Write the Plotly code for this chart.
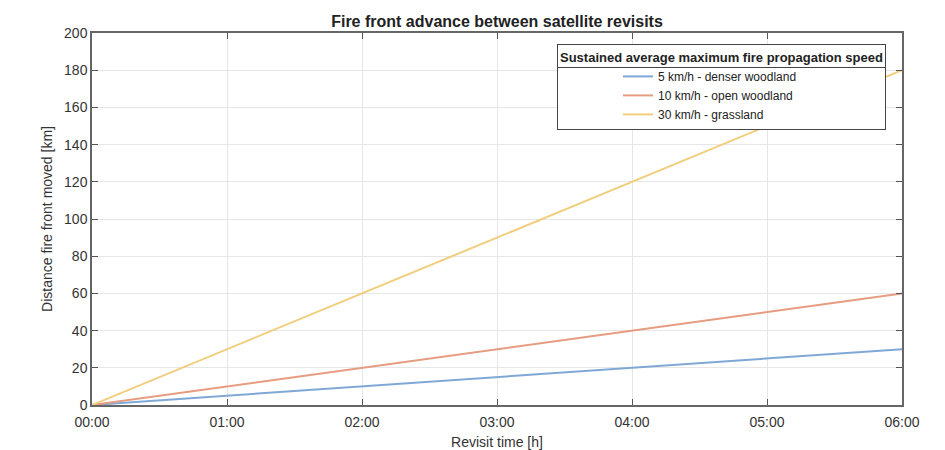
import plotly.graph_objects as go

hours = [0, 1, 2, 3, 4, 5, 6]
tick_labels = ["00:00", "01:00", "02:00", "03:00", "04:00", "05:00", "06:00"]
dist_5 = [0, 5, 10, 15, 20, 25, 30]
dist_10 = [0, 10, 20, 30, 40, 50, 60]
dist_30 = [0, 30, 60, 90, 120, 150, 180]
series_names = ["5 km/h - denser woodland", "10 km/h - open woodland", "30 km/h - grassland"]
series_colors = ["rgb(128,168,214)", "rgb(230,156,128)", "rgb(240,206,125)"]
y_ticks = [0, 20, 40, 60, 80, 100, 120, 140, 160, 180, 200]

FONT = "Liberation Sans, Arial, sans-serif"

# page body has an 8px margin; figure is sized so the plot lands where the reference has it
OFF = 8
W, H = 929, 442
L, T, R, B = 84, 25, 35, 45

fig = go.Figure()
for ys, name, col in zip([dist_5, dist_10, dist_30], series_names, series_colors):
    fig.add_trace(go.Scatter(x=hours, y=ys, mode="lines", name=name,
                             line=dict(color=col, width=2)))

axis_common = dict(
    showline=True, linecolor="#666666", linewidth=1.5, mirror="ticks",
    ticks="inside", ticklen=6, tickcolor="#555555", tickwidth=1,
    showgrid=True, gridcolor="#e6e6e6", gridwidth=1, zeroline=False,
    automargin=False,
    tickfont=dict(family=FONT, size=14, color="#333333"),
)

fig.update_xaxes(range=[0, 6], tickvals=hours, ticktext=tick_labels,
                 ticklabelstandoff=3,
                 title=dict(text="Revisit time [h]", font=dict(family=FONT, size=14, color="#333333"), standoff=9),
                 **axis_common)
fig.update_yaxes(range=[0, 200], tickvals=y_ticks,
                 title=dict(text="Distance fire front moved [km]", font=dict(family=FONT, size=14, color="#333333"), standoff=8),
                 **axis_common)

pw = W - L - R
ph = H - T - B


def px_x(x):
    return (x - OFF - L) / pw


def px_y(y):
    return 1 - (y - OFF - T) / ph


LEG_L, LEG_R, LEG_T, LEG_B = 557, 886, 44, 130

fig.update_layout(
    width=W, height=H,
    margin=dict(l=L, r=R, t=T, b=B),
    paper_bgcolor="white", plot_bgcolor="white",
    title=dict(text="<b>Fire front advance between satellite revisits</b>",
               x=0.5, xref="paper", xanchor="center",
               y=1 - 13 / H, yref="container", yanchor="middle",
               font=dict(family=FONT, size=16, color="#222222")),
    legend=dict(
        x=px_x(LEG_L), y=px_y(LEG_T), xanchor="left", yanchor="top",
        bgcolor="rgba(0,0,0,0)", bordercolor="#444444", borderwidth=1,
        font=dict(family=FONT, size=12, color="#222222"),
        title=dict(text="<b>Sustained average maximum fire propagation speed</b>",
                   side="top center", font=dict(family=FONT, size=13, color="#222222")),
        indentation=60, tracegroupgap=0,
    ),
    showlegend=True,
    shapes=[
        dict(type="rect", xref="paper", yref="paper",
             x0=px_x(LEG_L), x1=px_x(LEG_R), y0=px_y(LEG_B), y1=px_y(LEG_T),
             fillcolor="white", line=dict(width=0), layer="above"),
        dict(type="line", xref="paper", yref="paper",
             x0=px_x(LEG_L), x1=px_x(LEG_R), y0=px_y(67.5), y1=px_y(67.5),
             line=dict(color="#444444", width=1), layer="above"),
    ],
)

fig.write_html("out.html")
